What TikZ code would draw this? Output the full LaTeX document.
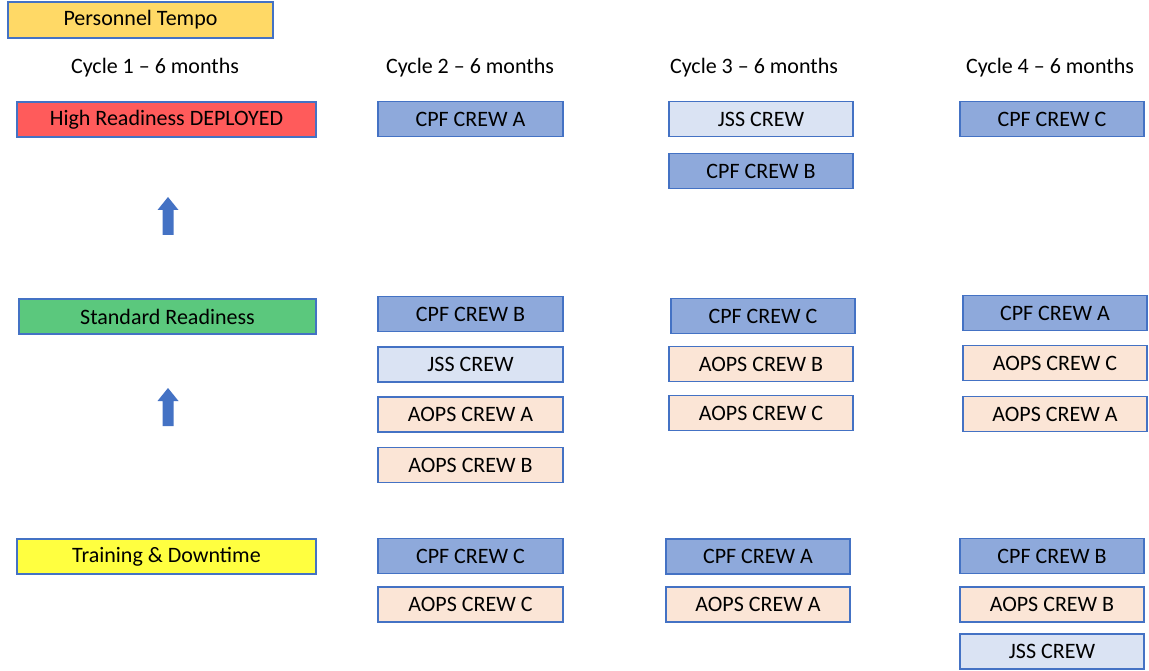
\documentclass[tikz,border=0pt]{standalone}
\usepackage{fontspec}
\setmainfont{Carlito}
\definecolor{edgeblue}{HTML}{4472C4}
\definecolor{cpfblue}{HTML}{8EA9DB}
\definecolor{jssblue}{HTML}{DAE3F3}
\definecolor{aopspeach}{HTML}{FBE5D6}
\definecolor{highred}{HTML}{FF5B5B}
\definecolor{stdgreen}{HTML}{5BC87D}
\definecolor{trainyellow}{HTML}{FFFF40}
\definecolor{tempogold}{HTML}{FFD966}
% block arrow pointing up, base centre at #1
\newcommand{\uparrowblock}[1]{%
  \fill[edgeblue] ([shift={(-5.5,0)}]#1) -- ++(0,-25) -- ++(-5,0) -- ++(10.5,-13)
     -- ++(10.5,13) -- ++(-5,0) -- ++(0,25) -- cycle;}

\begin{document}
\begin{tikzpicture}[x=1pt, y=-1pt]
  \tikzset{every node/.style={font=\fontsize{22}{24}\selectfont},
           crewbox/.style={draw=edgeblue, line width=1.2pt, minimum height=35pt,
                           minimum width=184pt, inner sep=0pt},
           cpf/.style={crewbox, fill=cpfblue},
           jss/.style={crewbox, fill=jssblue},
           aops/.style={crewbox, fill=aopspeach},
           levelbox/.style={crewbox, minimum width=299pt}}
  \useasboundingbox (0,0) rectangle (1149,671);

  % header
  \node[crewbox, fill=tempogold, minimum width=265pt, minimum height=36pt] (tempo) at (140.5,20) {Personnel Tempo};
  \node (c1) at (155,68) {Cycle 1 -- 6 months};
  \node (c2) at (470,68) {Cycle 2 -- 6 months};
  \node (c3) at (754,68) {Cycle 3 -- 6 months};
  \node (c4) at (1050,68) {Cycle 4 -- 6 months};

  % readiness levels
  \node[levelbox, fill=highred] (high) at (166.5,119.5) {High Readiness DEPLOYED};
  \node[levelbox, fill=stdgreen, minimum width=297pt] (std) at (167.5,316.5) {Standard Readiness};
  \node[levelbox, fill=trainyellow] (train) at (166.5,556.5) {Training \& Downtime};
  \coordinate (up1) at (168,235);
  \coordinate (up2) at (168,426);
  \uparrowblock{up1}
  \uparrowblock{up2}

  % cycle 2
  \node[cpf, minimum width=185pt] (c2hA) at (470.5,119) {CPF CREW A};
  \node[cpf, minimum width=185pt] (c2sB) at (470.5,314) {CPF CREW B};
  \node[jss, minimum width=185pt] (c2sJ) at (470.5,364.5) {JSS CREW};
  \node[aops, minimum width=185pt] (c2sA) at (470.5,414.5) {AOPS CREW A};
  \node[aops, minimum width=185pt] (c2sAB) at (470.5,465) {AOPS CREW B};
  \node[cpf, minimum width=185pt] (c2tC) at (470.5,556) {CPF CREW C};
  \node[aops, minimum width=185pt] (c2tAC) at (470.5,604.5) {AOPS CREW C};

  % cycle 3
  \node[jss] (c3hJ) at (761,119) {JSS CREW};
  \node[cpf] (c3hB) at (761,171) {CPF CREW B};
  \node[cpf] (c3sC) at (763,316) {CPF CREW C};
  \node[aops] (c3sAB) at (761,364) {AOPS CREW B};
  \node[aops] (c3sAC) at (761,413) {AOPS CREW C};
  \node[cpf] (c3tA) at (758,556.5) {CPF CREW A};
  \node[aops] (c3tAA) at (758,604.5) {AOPS CREW A};

  % cycle 4
  \node[cpf] (c4hC) at (1052,119) {CPF CREW C};
  \node[cpf] (c4sA) at (1055,313) {CPF CREW A};
  \node[aops] (c4sAC) at (1055,363) {AOPS CREW C};
  \node[aops] (c4sAA) at (1055,414) {AOPS CREW A};
  \node[cpf] (c4tB) at (1052,556) {CPF CREW B};
  \node[aops] (c4tAB) at (1052,604.5) {AOPS CREW B};
  \node[jss] (c4tJ) at (1052,651.5) {JSS CREW};
\end{tikzpicture}
\end{document}
